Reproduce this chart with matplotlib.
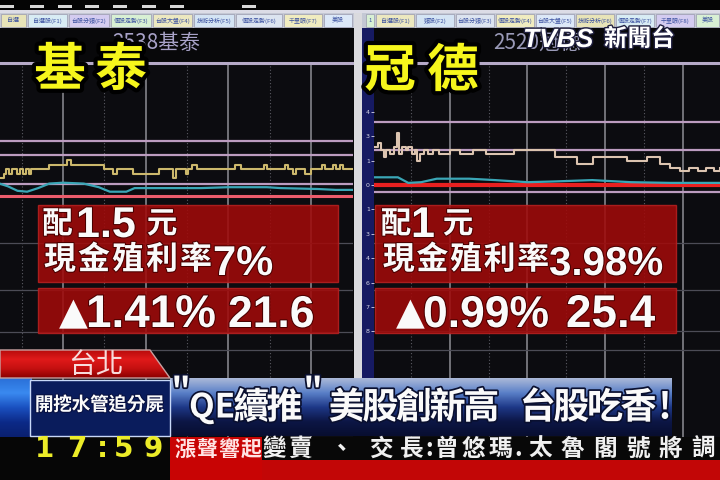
import matplotlib
matplotlib.use("Agg")
import matplotlib.pyplot as plt
import matplotlib.patheffects as pe
from matplotlib.patches import Rectangle, Polygon
from matplotlib.colors import LinearSegmentedColormap
import numpy as np

CJK = ["Noto Sans CJK TC", "DejaVu Sans"]
plt.rcParams["font.family"] = CJK

W, H = 720, 480

# ===== DATA =====
# 2538 基泰, minutes after 09:00
left_t = [14, 17, 19, 21, 23, 27, 29, 31, 33, 35, 37, 41, 50, 63, 66, 90, 96, 99, 111, 130,
          140, 142, 149, 151, 154, 157, 185, 189, 206, 208, 221, 223, 227, 229, 236, 240, 248, 250, 256, 258,
          261, 263, 271]
left_p = [21.50, 21.55, 21.60, 21.55, 21.60, 21.55, 21.60, 21.55, 21.60, 21.55, 21.60, 21.60, 21.65, 21.70, 21.65, 21.60, 21.55, 21.60, 21.55, 21.60,
          21.50, 21.60, 21.55, 21.60, 21.65, 21.60, 21.65, 21.60, 21.65, 21.60, 21.65, 21.60, 21.55, 21.60, 21.55, 21.60, 21.65, 21.60, 21.65, 21.60,
          21.65, 21.60, 21.60]
left_avg_t = [14, 20, 27, 34, 42, 50, 60, 75, 86, 94, 106, 112, 135, 160, 180, 208, 218, 245, 258, 271]
left_avg_p = [21.44, 21.41, 21.36, 21.35, 21.39, 21.44, 21.45, 21.44, 21.40, 21.35, 21.35, 21.39, 21.39, 21.39, 21.40, 21.40, 21.39, 21.38, 21.37, 21.37]
left_limit_up = 22.78
left_prev_close = 21.30
left_levels = [21.91, 21.76, 21.44]
left_grid = [20.78, 20.26, 19.79, 19.59]

# 2520 冠德
right_t = [2, 5, 7, 9, 11, 14, 17, 19, 21, 23, 26, 28, 31, 33, 35, 37, 40, 43, 47, 52,
           60, 68, 78, 88, 98, 110, 120, 141, 146, 158, 171, 174, 197, 212, 222, 230, 238, 245, 252, 258,
           264, 269]
right_p = [25.70, 25.75, 25.65, 25.55, 25.65, 25.60, 25.70, 25.90, 25.60, 25.70, 25.65, 25.70, 25.60, 25.65, 25.50, 25.60, 25.65, 25.60, 25.65, 25.60,
           25.65, 25.60, 25.65, 25.60, 25.60, 25.65, 25.65, 25.55, 25.55, 25.45, 25.55, 25.55, 25.50, 25.55, 25.45, 25.40, 25.35, 25.40, 25.35, 25.40,
           25.35, 25.40]
right_avg_t = [2, 20, 28, 38, 50, 75, 95, 120, 140, 170, 200, 230, 269]
right_avg_p = [25.26, 25.26, 25.18, 25.19, 25.24, 25.24, 25.22, 25.19, 25.20, 25.22, 25.19, 25.18, 25.18]
right_limit_up = 26.90
right_prev_close = 25.15
right_levels = [26.06, 25.65, 25.05]
right_grid = [24.32, 23.65, 23.05, 22.78]
right_axis_steps = [3, 2, 1, 0, -1, -2, -3, -4, -5, -6]

hour_marks = [60, 120, 180, 240]
half_marks = [30, 90, 150, 210]

left_tabs = ["自選", "自選股(F1)", "台股分類(F2)", "個股走勢(F3)", "台股大盤(F4)",
             "技術分析(F5)", "個股走勢(F6)", "千里眼(F7)", "美股"]
right_tabs = ["1", "自選股(F1)", "類股(F2)", "台股分類(F3)", "個股走勢(F4)",
              "台股大盤(F5)", "技術分析(F6)", "個股走勢(F7)", "千里眼(F8)", "美股"]

names = ["基泰", "冠德"]
codes = ["2538基泰", "2520冠德"]
dividend = ["1.5", "1"]
yield_pct = ["7%", "3.98%"]
change_pct = ["1.41%", "0.99%"]
price = ["21.6", "25.4"]

place = "台北"
side_title = "開挖水管追分屍"
headline = ['"QE續推"', "美股創新高", "台股吃香!"]
clock = "17:59"
ticker_tag = "漲聲響起"
ticker = ["變賣", "、", "交長", ":", "曾悠瑪", ".", "太魯閣號將調"]

# ===== FIGURE =====
fig = plt.figure(figsize=(7.2, 4.8), dpi=100, facecolor="#08080a")


def px_axes(x0, y0, x1, y1, z):
    return fig.add_axes([x0 / W, 1 - y1 / H, (x1 - x0) / W, (y1 - y0) / H], zorder=z)


def draw_chart(a, t, p, at, ap, xlim, ylim, top, levels, prev, grid, pcolor, prevcolor, prevlw):
    a.set_facecolor("#0c0c10")
    a.set_xlim(*xlim)
    a.set_ylim(*ylim)
    for s in a.spines.values():
        s.set_visible(False)
    a.set_xticks([])
    a.set_yticks([])
    for m in hour_marks:
        a.axvline(m, color="#8e8e94", lw=1.1, zorder=1)
    for m in half_marks:
        a.axvline(m, color="#5a5a62", lw=0.8, ls=(0, (1, 2)), zorder=1)
    for g in grid:
        a.axhline(g, color="#4c4c56", lw=0.9, zorder=1)
    a.axhline(top, color="#b6aac8", lw=2.2, zorder=2, clip_on=False)
    for lv in levels:
        a.axhline(lv, color="#bc9cc0", lw=1.6, zorder=2)
    a.axhline(prev, color=prevcolor, lw=prevlw, zorder=3)
    a.plot(at, ap, color="#3aa6b6", lw=1.6, zorder=4)
    a.plot(t, p, color=pcolor, lw=1.5, drawstyle="steps-post", zorder=5)


# left chart (px 0-353, y 63-437), 90 px per 1.00
axl = px_axes(0, 63, 353, 437, 1)
draw_chart(axl, left_t, left_p, left_avg_t, left_avg_p, (14.3, 270.5),
           (left_limit_up - 374 / 90, left_limit_up), left_limit_up, left_levels,
           left_prev_close, left_grid, "#ccb86c", "#ec5c6c", 2.2)

# right chart (px 374-720), ~70 px per 1.00
axr = px_axes(374, 63, 720, 437, 1)
draw_chart(axr, right_t, right_p, right_avg_t, right_avg_p, (1.54, 268.7),
           (right_limit_up - 374 / 69.7, right_limit_up), right_limit_up, right_levels,
           right_prev_close, right_grid, "#dcc4b0", "#e82020", 3.0)
rticks = [right_prev_close + 0.35 * k for k in right_axis_steps]
axr.set_yticks(rticks)
axr.set_yticklabels([f"{abs(v / right_prev_close - 1) * 100:.0f}" for v in rticks],
                    fontsize=4.5, color="#d8d8e8", family="DejaVu Sans")
axr.tick_params(axis="y", length=2, width=0.6, pad=1, colors="#d8d8e8")

# blue y-axis strip
strip = px_axes(362, 28, 374, 378, 0.5)
strip.set_facecolor("#161a62")
strip.set_xticks([])
strip.set_yticks([])
for s in strip.spines.values():
    s.set_visible(False)

# ===== OVERLAY =====
ov = px_axes(0, 0, 720, 480, 5)
ov.set_xlim(0, W)
ov.set_ylim(H, 0)
ov.axis("off")
ov.patch.set_visible(False)


def box(x0, y0, x1, y1, color, z=1, ec="none", lw=0, alpha=1):
    ov.add_patch(Rectangle((x0, y0), x1 - x0, y1 - y0, facecolor=color, edgecolor=ec,
                           lw=lw, zorder=z, alpha=alpha))


def vgrad(x0, y0, x1, y1, colors, z=1, clip=None):
    cmap = LinearSegmentedColormap.from_list("g", colors)
    im = ov.imshow(np.linspace(0, 1, 64).reshape(-1, 1), cmap=cmap, extent=(x0, x1, y1, y0),
                   aspect="auto", zorder=z, interpolation="bilinear")
    if clip is not None:
        im.set_clip_path(clip)
    ov.set_xlim(0, W)
    ov.set_ylim(H, 0)


def spaced(x0, y, s, step, **kw):
    for i, ch in enumerate(s):
        ov.text(x0 + step * (i + 0.5), y, ch, ha="center", va="center", **kw)


# top band and toolbar
box(0, 0, 720, 10, "#050505")
for x in [0, 30, 58, 85, 113, 142, 170, 242]:
    box(x, 5, x + 14, 7.5, "#d8d8d8", z=2)
box(0, 10, 720, 13, "#dcdce6")
box(0, 13, 720, 28, "#c4c8d4")
tab_colors = ["#e8e4b8", "#d8ecf4", "#d4ccf0", "#d8f0d4", "#ece8c0", "#d4e4f4", "#dce4f0", "#f0ecc0", "#dce8f8"]
left_starts = [0, 27, 68, 110, 152, 193, 235, 283, 323, 353]
for i, lab in enumerate(left_tabs):
    x0, x1 = left_starts[i], left_starts[i + 1]
    box(x0 + 1, 14, x1 - 1, 27, tab_colors[i % len(tab_colors)], z=2, ec="#9a9aae", lw=0.5)
    ov.text((x0 + x1) / 2, 20.5, lab, ha="center", va="center", fontsize=4.3, color="#3a50a0", zorder=3)
right_starts = [365, 375, 415, 455, 495, 535, 575, 615, 655, 695, 720]
for i, lab in enumerate(right_tabs):
    x0, x1 = right_starts[i], right_starts[i + 1]
    box(x0 + 1, 14, x1 - 1, 27, tab_colors[(i + 3) % len(tab_colors)], z=2, ec="#9a9aae", lw=0.5)
    ov.text((x0 + x1) / 2, 20.5, lab, ha="center", va="center", fontsize=4.3, color="#3a50a0", zorder=3)

# divider
box(354, 13, 362, 378, "#dadade", z=2)

# stock codes and big names (the big names partly cover the codes, as on screen)
ov.text(112, 43, codes[0], ha="left", va="center", fontsize=15, color="#a8a2c8", zorder=2)
ov.text(493, 44, codes[1], ha="left", va="center", fontsize=15, color="#9a9ab8", zorder=2)
stroke = [pe.withStroke(linewidth=6, foreground="black")]
for ch, x in zip(names[0], [60, 121]):
    ov.text(x, 70, ch, ha="center", va="center", fontsize=37, fontweight="bold",
            color="#f6f61c", path_effects=stroke, zorder=4)
for ch, x in zip(names[1], [390, 453]):
    ov.text(x, 71, ch, ha="center", va="center", fontsize=37, fontweight="bold",
            color="#f6f61c", path_effects=stroke, zorder=4)

# TVBS logo
logo_fx = [pe.withStroke(linewidth=2, foreground="#202040")]
ov.text(523, 40, "TVBS", ha="left", va="center", fontsize=19, fontweight="bold", style="italic",
        family="Liberation Sans", color="white", path_effects=logo_fx, zorder=4)
ov.text(604, 39, "新聞台", ha="left", va="center", fontsize=17, fontweight="bold",
        color="white", path_effects=logo_fx, zorder=4)

# red info boxes
txt_fx = [pe.withStroke(linewidth=1.5, foreground="#4a0000")]
WHITE = "#fafafa"
for bx0, bx1 in [(38, 338), (375, 676)]:
    box(bx0, 205, bx1, 282, "#a00a0a", z=3, ec="#b82020", lw=1, alpha=0.88)
    box(bx0, 288, bx1, 333, "#a00a0a", z=3, ec="#b82020", lw=1, alpha=0.88)

# left box text
ov.text(57.5, 224, "配", ha="center", va="center", fontsize=22, fontweight="bold", color=WHITE, path_effects=txt_fx, zorder=4)
ov.text(76, 237, dividend[0], ha="left", va="baseline", fontsize=31, fontweight="bold",
        family="Liberation Sans", color=WHITE, path_effects=txt_fx, zorder=4)
ov.text(162, 224, "元", ha="center", va="center", fontsize=22, fontweight="bold", color=WHITE, path_effects=txt_fx, zorder=4)
spaced(43, 260, "現金殖利率", 34, fontsize=23, fontweight="bold", color=WHITE, path_effects=txt_fx, zorder=4)
ov.text(213, 275, yield_pct[0], ha="left", va="baseline", fontsize=30, fontweight="bold",
        family="Liberation Sans", color=WHITE, path_effects=txt_fx, zorder=4)
ov.text(73.5, 314, "▲", ha="center", va="center", fontsize=27, family="DejaVu Sans", color=WHITE, zorder=4)
ov.text(86, 327, change_pct[0], ha="left", va="baseline", fontsize=33, fontweight="bold",
        family="Liberation Sans", color=WHITE, path_effects=txt_fx, zorder=4)
ov.text(228, 327, price[0], ha="left", va="baseline", fontsize=32, fontweight="bold",
        family="Liberation Sans", color=WHITE, path_effects=txt_fx, zorder=4)

# right box text
ov.text(396, 224, "配", ha="center", va="center", fontsize=22, fontweight="bold", color=WHITE, path_effects=txt_fx, zorder=4)
ov.text(411, 237, dividend[1], ha="left", va="baseline", fontsize=31, fontweight="bold",
        family="Liberation Sans", color=WHITE, path_effects=txt_fx, zorder=4)
ov.text(458, 224, "元", ha="center", va="center", fontsize=22, fontweight="bold", color=WHITE, path_effects=txt_fx, zorder=4)
spaced(382, 260, "現金殖利率", 33.6, fontsize=23, fontweight="bold", color=WHITE, path_effects=txt_fx, zorder=4)
ov.text(549, 275, yield_pct[1], ha="left", va="baseline", fontsize=29, fontweight="bold",
        family="Liberation Sans", color=WHITE, path_effects=txt_fx, zorder=4)
ov.text(410.5, 314, "▲", ha="center", va="center", fontsize=27, family="DejaVu Sans", color=WHITE, zorder=4)
ov.text(423, 327, change_pct[1], ha="left", va="baseline", fontsize=32, fontweight="bold",
        family="Liberation Sans", color=WHITE, path_effects=txt_fx, zorder=4)
ov.text(566, 327, price[1], ha="left", va="baseline", fontsize=33, fontweight="bold",
        family="Liberation Sans", color=WHITE, path_effects=txt_fx, zorder=4)

# ===== BOTTOM BANNER =====
tab = Polygon([(0, 350), (150, 350), (170, 378), (0, 378)], closed=True, facecolor="none",
              edgecolor="#c8a0a0", lw=1, zorder=6)
ov.add_patch(tab)
vgrad(0, 350, 172, 378, ["#b80c0c", "#e01a1a", "#c41010", "#8a0000"], z=5, clip=tab)
ov.text(96, 365, place, ha="center", va="center", fontsize=20, color="#f8dcdc", zorder=7)

vgrad(0, 378, 32, 437, ["#2a70d8", "#3a8af0", "#1a50c0", "#0c2a88", "#0a2070"], z=5)
vgrad(170, 378, 672, 436, ["#aab8d8", "#5a80c8", "#1e3888", "#0c1646", "#080e30"], z=5)
box(30, 380, 170, 436, "#0a1c5c", z=6, ec="#c8d8f8", lw=1)

head_fx = [pe.withStroke(linewidth=2.5, foreground="#0a1030")]
ov.text(181, 392, '"', ha="center", va="center", fontsize=24, fontweight="bold", color=WHITE, path_effects=head_fx, zorder=7)
ov.text(189, 408, "QE", ha="left", va="center", fontsize=24, fontweight="bold", color=WHITE, path_effects=head_fx, zorder=7)
spaced(235, 408, "續推", 33, fontsize=26, fontweight="bold", color=WHITE, path_effects=head_fx, zorder=7)
ov.text(313, 392, '"', ha="center", va="center", fontsize=24, fontweight="bold", color=WHITE, path_effects=head_fx, zorder=7)
spaced(330, 408, headline[1], 33.6, fontsize=26, fontweight="bold", color=WHITE, path_effects=head_fx, zorder=7)
spaced(521, 408, headline[2][:4], 33.6, fontsize=26, fontweight="bold", color=WHITE, path_effects=head_fx, zorder=7)
ov.text(665, 408, headline[2][4], ha="center", va="center", fontsize=26, fontweight="bold", color=WHITE, path_effects=head_fx, zorder=7)

spaced(35, 405, side_title, 18.4, fontsize=13.5, fontweight="bold", color=WHITE,
       path_effects=[pe.withStroke(linewidth=1.5, foreground="#081040")], zorder=7)

# time and ticker rows
box(0, 437, 172, 480, "#060606", z=5)
box(170, 437, 262, 480, "#c80404", z=5)
box(262, 437, 720, 460, "#080808", z=5)
box(262, 460, 720, 480, "#c20606", z=5)
for ch, x in zip(clock, [45, 77, 102, 124, 153]):
    ov.text(x, 449, ch, ha="center", va="center", fontsize=20, fontweight="bold",
            family="DejaVu Sans", color="#ecec28", zorder=7)
spaced(174, 449, ticker_tag, 22, fontsize=15, fontweight="bold", color="#ffe4e4", zorder=7)
tick_starts = [262, 335, 367, 425, 433, 514, 524]
tick_steps = [25, 14, 30, 8, 27, 8, 32.5]
for seg, x0, st in zip(ticker, tick_starts, tick_steps):
    spaced(x0, 449, seg, st, fontsize=17, fontweight="bold", color="#f0f0f0", zorder=7)

fig.savefig("out.png", dpi=100, facecolor=fig.get_facecolor())
